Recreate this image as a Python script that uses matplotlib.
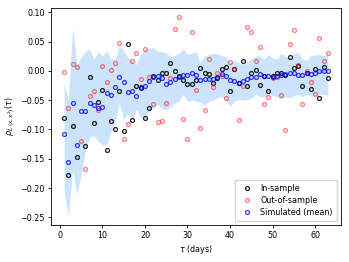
import numpy as np
import matplotlib
matplotlib.use("Agg")
from matplotlib import pyplot as plt

lags = np.arange(1, 64)

# in-sample (black), NaN where no point is visible
in_sample = [-0.081, -0.178, -0.094, -0.147, np.nan, -0.129, -0.010, -0.089, -0.053, -0.032,
             -0.135, -0.085, -0.100, -0.035, -0.103, 0.045, -0.083, -0.025, -0.030, -0.080,
             -0.064, -0.009, -0.016, -0.003, -0.003, 0.013, 0.000, -0.009, -0.016, -0.023,
             -0.023, -0.016, 0.005, -0.004, -0.005, -0.021, -0.013, 0.004, 0.006, -0.034,
             0.003, -0.021, 0.017, -0.025, -0.003, 0.002, -0.024, -0.009, -0.035, -0.009,
             -0.003, -0.003, -0.007, 0.023, 0.005, 0.009, -0.026, -0.003, -0.031, 0.004,
             -0.047, 0.007, -0.013]

out_sample = [-0.002, -0.064, 0.011, 0.006, -0.120, -0.168, -0.043, -0.035, -0.066, 0.008,
              -0.019, 0.002, 0.013, 0.047, -0.116, -0.090, 0.016, 0.030, -0.014, 0.037,
              -0.010, -0.057, -0.088, -0.086, -0.054, -0.013, 0.071, 0.092, -0.082, -0.116,
              0.066, -0.033, -0.097, -0.066, 0.021, -0.027, -0.003, -0.008, -0.047, 0.015,
              0.003, -0.083, -0.025, 0.075, 0.066, 0.017, 0.041, -0.057, -0.045, -0.013,
              -0.011, -0.041, -0.101, 0.046, 0.069, 0.010, -0.056, 0.000, -0.019, -0.039,
              0.056, 0.016, 0.030]

sim_mean = [-0.108, -0.155, -0.054, -0.126, -0.069, -0.069, -0.054, -0.058, -0.063, -0.062,
            -0.037, -0.041, -0.028, -0.010, -0.019, -0.036, -0.035, -0.043, -0.027, -0.025,
            -0.018, -0.010, -0.009, -0.013, -0.022, -0.019, -0.014, -0.010, -0.007, -0.007,
            -0.003, -0.007, -0.016, -0.014, -0.014, -0.014, -0.011, -0.006, -0.009, -0.016,
            -0.018, -0.021, -0.018, -0.014, -0.011, -0.011, -0.006, -0.009, -0.009, -0.011,
            -0.009, -0.007, -0.006, -0.004, -0.003, -0.007, -0.007, -0.003, -0.005, -0.003,
            0.000, 0.000, 0.000]

sim_upper = [-0.023, -0.048, 0.074, 0.011, 0.023, 0.034, 0.037, 0.020, 0.032, 0.026,
             0.034, 0.020, 0.020, 0.043, 0.035, 0.022, 0.017, 0.011, 0.030, 0.036,
             0.038, 0.040, 0.033, 0.033, 0.030, 0.024, 0.026, 0.030, 0.038, 0.028,
             0.030, 0.033, 0.015, 0.025, 0.028, 0.030, 0.029, 0.026, 0.024, 0.015,
             0.018, 0.014, 0.011, 0.015, 0.020, 0.025, 0.025, 0.020, 0.028, 0.022,
             0.020, 0.030, 0.026, 0.022, 0.030, 0.031, 0.020, 0.018, 0.026, 0.027,
             0.028, 0.026, 0.028]

sim_lower = [-0.207, -0.247, -0.170, -0.210, -0.176, -0.136, -0.113, -0.110, -0.120, -0.126,
             -0.126, -0.105, -0.085, -0.057, -0.083, -0.072, -0.083, -0.065, -0.080, -0.078,
             -0.069, -0.062, -0.057, -0.065, -0.066, -0.062, -0.055, -0.051, -0.040, -0.052,
             -0.050, -0.052, -0.054, -0.058, -0.052, -0.050, -0.046, -0.044, -0.050, -0.060,
             -0.052, -0.049, -0.050, -0.049, -0.047, -0.040, -0.044, -0.045, -0.040, -0.042,
             -0.044, -0.048, -0.044, -0.046, -0.042, -0.040, -0.044, -0.040, -0.041, -0.043,
             -0.040, -0.040, -0.042]

plt.rcParams["font.size"] = 5.8
plt.rcParams["axes.linewidth"] = 0.6
plt.rcParams["xtick.major.width"] = 0.6
plt.rcParams["ytick.major.width"] = 0.6
plt.rcParams["xtick.major.size"] = 2.5
plt.rcParams["ytick.major.size"] = 2.5

fig = plt.figure(figsize=(3.49, 2.62), dpi=100)
ax = fig.add_axes([0.146, 0.141, 0.83, 0.828])

ax.fill_between(lags, sim_lower, sim_upper, color="#cce4fb", lw=0)

mk = dict(ls="none", marker="o", ms=2.8, mfc="none", mew=0.95)
ax.plot(lags, in_sample, color="k", alpha=0.85, label="In-sample", **mk)
ax.plot(lags, out_sample, color="red", alpha=0.5, label="Out-of-sample", **mk)
ax.plot(lags, sim_mean, color="blue", alpha=0.75, label="Simulated (mean)", **mk)

ax.set_xlim(-2.1, 66)
ax.set_ylim(-0.263, 0.107)
ax.set_yticks([-0.25, -0.20, -0.15, -0.10, -0.05, 0.00, 0.05, 0.10])
ax.set_xlabel(r"$\tau$ (days)", labelpad=2)
ax.set_ylabel(r"$\rho_{\ell,(x,x^2)}(\tau)$", labelpad=2)
ax.tick_params(pad=2)

ax.legend(loc="lower right", fontsize=5.8, handletextpad=0.6, borderpad=0.5,
          labelspacing=0.4, fancybox=False, edgecolor="#cccccc")

fig.savefig("out.png", dpi=100)
